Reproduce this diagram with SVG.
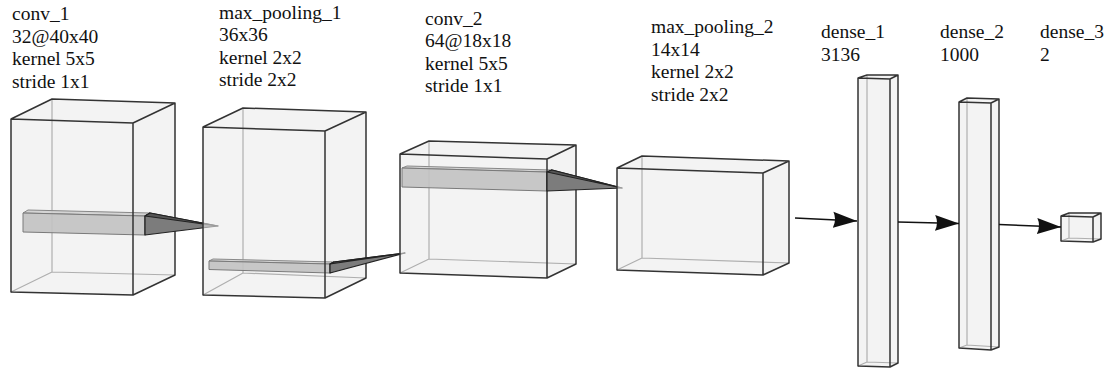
<svg xmlns="http://www.w3.org/2000/svg" width="1111" height="372" viewBox="0 0 1111 372">
<style>
.lbl{font-family:'Liberation Serif','DejaVu Serif',serif;font-size:19.5px;fill:#111}
.hid{stroke:#555;stroke-width:1.2;fill:none}
.face{fill:#ebebeb;fill-opacity:0.6;stroke:none}
.vis{stroke:#333;stroke-width:1.5;fill:none;stroke-linejoin:round}
.kf{fill:#c2c2c2;fill-opacity:0.9;stroke:#7a7a7a;stroke-width:1}
.kt{fill:#d0d0d0;fill-opacity:0.9;stroke:#888;stroke-width:1}
.kr{fill:#8a8a8a;stroke:#444;stroke-width:1}
.pyr{fill:#7c7c7c;stroke:#222;stroke-width:1.2;stroke-linejoin:round}
.pyt{fill:#555;stroke:#222;stroke-width:1.2;stroke-linejoin:round}
.conn{stroke:#111;stroke-width:1.5;fill:none}
</style>
<defs>
<marker id="ah" viewBox="0 0 24 18" markerWidth="24" markerHeight="18" refX="24" refY="9" orient="auto" markerUnits="userSpaceOnUse">
<path d="M0,1 L24,9 L0,17 Q4,9 0,1 z" fill="#111"/>
</marker>
</defs>

<g id="conv_1">
<path class="hid" d="M52,99 L52,272 L175,275 M52,272 L11,292"/>
<polygon class="face" points="11,119 133,123 175,103 52,99"/>
<polygon class="face" points="133,123 175,103 175,275 133,295"/>
<polygon class="face" points="11,119 133,123 133,295 11,292"/>
<polygon class="kt" points="23,213 145,216 150,213 28,210"/>
<polygon class="kf" points="23,213 145,216 145,235 23,232"/>
<polygon class="kr" points="145,216 150,213 150,232 145,235"/>
<path class="vis" d="M11,119 L133,123 L133,295 L11,292 Z M11,119 L52,99 L175,103 L133,123 M175,103 L175,275 L133,295"/>
<polygon class="pyr" points="150,213 218,226 145,235 145,216"/>
<polygon class="pyt" points="150,213 218,226 145,216"/>
<g class="lbl" font-family="Liberation Serif, DejaVu Serif, serif">
<text x="12" y="20">conv_1</text>
<text x="12" y="42.5">32@40x40</text>
<text x="12" y="65">kernel 5x5</text>
<text x="12" y="87.5">stride 1x1</text>
</g>
</g>

<g id="max_pooling_1">
<path class="hid" d="M243,108 L243,273 L366,278 M243,273 L203,295"/>
<polygon class="face" points="203,127 325,131 366,112 243,108"/>
<polygon class="face" points="325,131 366,112 366,278 325,298"/>
<polygon class="face" points="203,127 325,131 325,298 203,295"/>
<polygon class="kt" points="209,261 330,264 334,262 213,259"/>
<polygon class="kf" points="209,261 330,264 330,273 209,269.5"/>
<polygon class="kr" points="330,264 334,262 334,271 330,273"/>
<path class="vis" d="M203,127 L325,131 L325,298 L203,295 Z M203,127 L243,108 L366,112 L325,131 M366,112 L366,278 L325,298"/>
<polygon class="pyr" points="334,262 405,253 330,273 330,264"/>
<polygon class="pyt" points="334,262 405,253 330,264"/>
<g class="lbl" font-family="Liberation Serif, DejaVu Serif, serif">
<text x="219" y="18.5">max_pooling_1</text>
<text x="219" y="41">36x36</text>
<text x="219" y="63.5">kernel 2x2</text>
<text x="219" y="86">stride 2x2</text>
</g>
</g>

<g id="conv_2">
<path class="hid" d="M429,141 L429,259 L576,264 M429,259 L400,273"/>
<polygon class="face" points="400,154 547,159 576,145 429,141"/>
<polygon class="face" points="547,159 576,145 576,264 547,278"/>
<polygon class="face" points="400,154 547,159 547,278 400,273"/>
<polygon class="kt" points="402,168 547,172 552,170 407,166"/>
<polygon class="kf" points="402,168 547,172 547,191 402,187"/>
<polygon class="kr" points="547,172 552,170 552,189 547,191"/>
<path class="vis" d="M400,154 L547,159 L547,278 L400,273 Z M400,154 L429,141 L576,145 L547,159 M576,145 L576,264 L547,278"/>
<polygon class="pyr" points="552,170 622,188 547,191 547,172"/>
<polygon class="pyt" points="552,170 622,188 547,172"/>
<g class="lbl" font-family="Liberation Serif, DejaVu Serif, serif">
<text x="425" y="24.5">conv_2</text>
<text x="425" y="47">64@18x18</text>
<text x="425" y="69.5">kernel 5x5</text>
<text x="425" y="92">stride 1x1</text>
</g>
</g>

<g id="max_pooling_2">
<path class="hid" d="M642,156 L642,258 L789,263 M642,258 L617,270"/>
<polygon class="face" points="617,168 763,173 789,161 642,156"/>
<polygon class="face" points="763,173 789,161 789,263 763,275"/>
<polygon class="face" points="617,168 763,173 763,275 617,270"/>
<path class="vis" d="M617,168 L763,173 L763,275 L617,270 Z M617,168 L642,156 L789,161 L763,173 M789,161 L789,263 L763,275"/>
<g class="lbl" font-family="Liberation Serif, DejaVu Serif, serif">
<text x="651" y="33">max_pooling_2</text>
<text x="651" y="55.5">14x14</text>
<text x="651" y="78">kernel 2x2</text>
<text x="651" y="100.5">stride 2x2</text>
</g>
</g>

<g id="dense_1">
<path class="hid" d="M867,75 L867,362 L898,363 M867,362 L858,366"/>
<polygon class="face" points="858,78 890,79 898,75 867,75"/>
<polygon class="face" points="890,79 898,75 898,363 890,367"/>
<polygon class="face" points="858,78 890,79 890,367 858,366"/>
<path class="vis" d="M858,78 L890,79 L890,367 L858,366 Z M858,78 L867,75 L898,75 L890,79 M898,75 L898,363 L890,367"/>
<g class="lbl" font-family="Liberation Serif, DejaVu Serif, serif">
<text x="821" y="38">dense_1</text>
<text x="821" y="60.5">3136</text>
</g>
</g>

<g id="dense_2">
<path class="hid" d="M967,98 L967,345 L999,347 M967,345 L959,348"/>
<polygon class="face" points="959,102 991,103 999,99 967,98"/>
<polygon class="face" points="991,103 999,99 999,347 991,350"/>
<polygon class="face" points="959,102 991,103 991,350 959,348"/>
<path class="vis" d="M959,102 L991,103 L991,350 L959,348 Z M959,102 L967,98 L999,99 L991,103 M999,99 L999,347 L991,350"/>
<g class="lbl" font-family="Liberation Serif, DejaVu Serif, serif">
<text x="940" y="38">dense_2</text>
<text x="940" y="60.5">1000</text>
</g>
</g>

<g id="dense_3">
<path class="hid" d="M1069,213 L1069,238 L1101,239 M1069,238 L1061,241"/>
<polygon class="face" points="1061,216 1093,217 1101,213 1069,213"/>
<polygon class="face" points="1093,217 1101,213 1101,239 1093,242"/>
<polygon class="face" points="1061,216 1093,217 1093,242 1061,241"/>
<path class="vis" d="M1061,216 L1093,217 L1093,242 L1061,241 Z M1061,216 L1069,213 L1101,213 L1093,217 M1101,213 L1101,239 L1093,242"/>
<g class="lbl" font-family="Liberation Serif, DejaVu Serif, serif">
<text x="1040" y="38">dense_3</text>
<text x="1040" y="60.5">2</text>
</g>
</g>

<g id="connectors">
<line class="conn" x1="795" y1="218" x2="857" y2="221" marker-end="url(#ah)"/>
<line class="conn" x1="898" y1="222" x2="959" y2="223.5" marker-end="url(#ah)"/>
<line class="conn" x1="999" y1="224.5" x2="1061" y2="227" marker-end="url(#ah)"/>
</g>
</svg>
